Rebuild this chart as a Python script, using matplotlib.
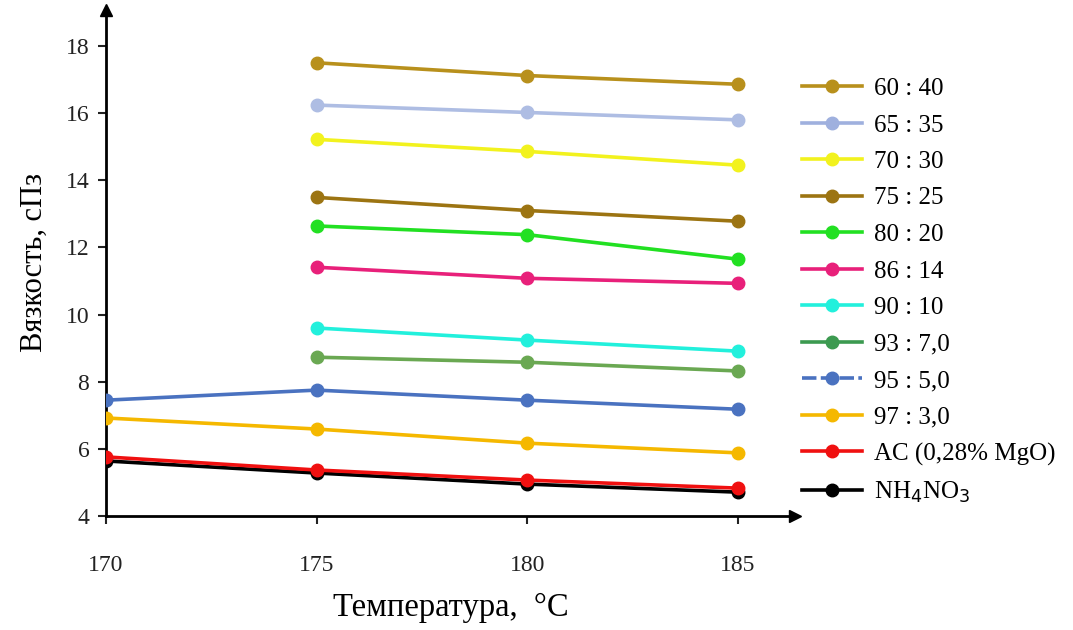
import matplotlib
matplotlib.use("Agg")
import matplotlib.pyplot as plt
from matplotlib.lines import Line2D

plt.rcParams['font.family'] = ['Liberation Serif', 'DejaVu Serif']

temps_all = [170, 175, 180, 185]
temps_hi = [175, 180, 185]

labels = ["60 : 40", "65 : 35", "70 : 30", "75 : 25", "80 : 20", "86 : 14",
          "90 : 10", "93 : 7,0", "95 : 5,0", "97 : 3,0", "AC (0,28% MgO)", "NH$_4$NO$_3$"]

v60_40 = [17.5, 17.12, 16.86]
v65_35 = [16.24, 16.02, 15.8]
v70_30 = [15.22, 14.86, 14.45]
v75_25 = [13.49, 13.1, 12.78]
v80_20 = [12.64, 12.38, 11.65]
v86_14 = [11.41, 11.08, 10.93]
v90_10 = [9.6, 9.24, 8.91]
v93_7 = [8.73, 8.58, 8.32]
v95_5 = [7.45, 7.75, 7.45, 7.18]
v97_3 = [6.92, 6.59, 6.17, 5.88]
vAC = [5.76, 5.37, 5.07, 4.83]
vNH = [5.64, 5.28, 4.95, 4.71]

series = [
    (temps_hi, v60_40, "#B8901C", "#B8901C"),
    (temps_hi, v65_35, "#AEBDE3", "#9FB0DE"),
    (temps_hi, v70_30, "#F2F21E", "#F2F21E"),
    (temps_hi, v75_25, "#9C7412", "#9C7412"),
    (temps_hi, v80_20, "#22E022", "#22E022"),
    (temps_hi, v86_14, "#E8207A", "#E8207A"),
    (temps_hi, v90_10, "#22F0DC", "#22F0DC"),
    (temps_hi, v93_7, "#6AA852", "#3C9A50"),
    (temps_all, v95_5, "#4A72C0", "#4A72C0"),
    (temps_all, v97_3, "#F5B800", "#F5B800"),
    (temps_all, vNH, "#000000", "#000000"),
    (temps_all, vAC, "#F01010", "#F01010"),
]

fig = plt.figure(figsize=(10.73, 6.3), dpi=100)
ax = fig.add_axes([106/1073, 1-516/630, (795-106)/1073, (516-10)/630])

handles = {}
for (x, y, c, lc), lab in zip(series, [l for l in labels[:10]] + [labels[11], labels[10]]):
    ln, = ax.plot(x, y, color=c, lw=2.6, marker='o', ms=9, mec=c, mfc=c, zorder=3)
    ls = (0, (4, 1.2)) if lab == "95 : 5,0" else '-'
    handles[lab] = Line2D([], [], color=lc, lw=2.6, ls=ls, marker='o', ms=9, mec=lc, mfc=lc)

ax.set_xlim(170, 170 + (795-106)/((738-106)/15))
ax.set_ylim(4, 4 + (516-10)/((516-46)/14))
ax.set_xticks([170, 175, 180, 185])
ax.set_yticks([4, 6, 8, 10, 12, 14, 16, 18])
for s in ['top', 'right']:
    ax.spines[s].set_visible(False)
for s in ['left', 'bottom']:
    ax.spines[s].set_linewidth(2)
ax.tick_params(axis='both', length=6, width=1.5, labelsize=17, colors='#222222')
ax.tick_params(axis='x', pad=22)
ax.tick_params(axis='y', pad=6)
ax.plot(1, 0, '>', color='black', ms=9, transform=ax.transAxes, clip_on=False)
ax.plot(0, 1, '^', color='black', ms=9, transform=ax.transAxes, clip_on=False)

ax.set_xlabel("Температура,  °C", fontsize=23.5, labelpad=12)
ax.set_ylabel("Вязкость, сПз", fontsize=22, labelpad=12)

fig.legend([handles[l] for l in labels], labels, loc='upper left',
           bbox_to_anchor=(789/1073, 1-65/630), frameon=False, fontsize=18,
           handlelength=2.4, labelspacing=0.56, handletextpad=0.5, borderpad=0)

fig.savefig("out.png", dpi=100)
